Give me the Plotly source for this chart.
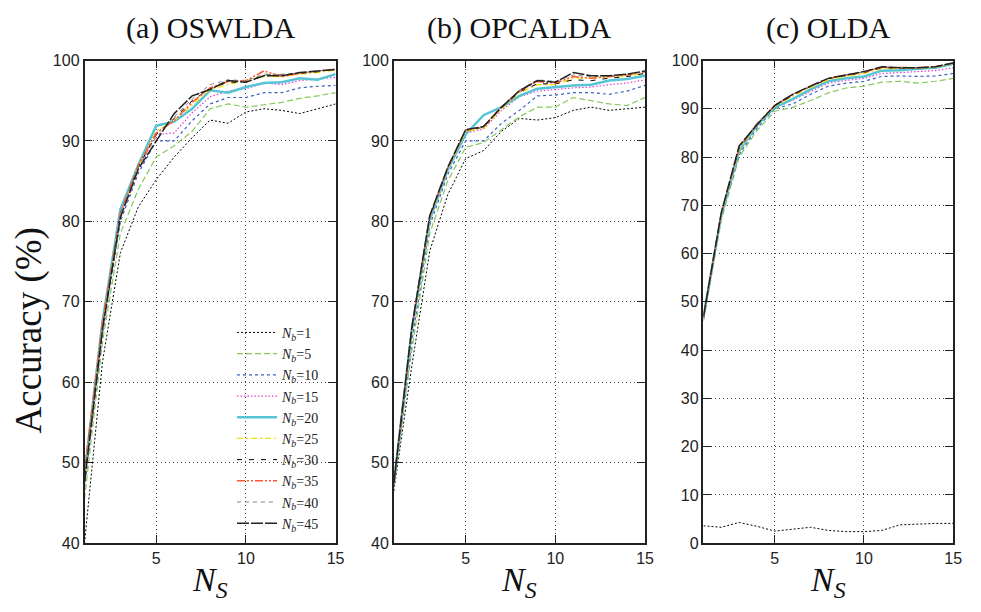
import plotly.graph_objects as go

# ---------------- data ----------------
ns = list(range(1, 16))
nb_labels = ["1", "5", "10", "15", "20", "25", "30", "35", "40", "45"]
panel_titles = ["(a) OSWLDA", "(b) OPCALDA", "(c) OLDA"]
x_ticks = [5, 10, 15]
y_ticks_ab = [40, 50, 60, 70, 80, 90, 100]
y_ticks_c = [0, 10, 20, 30, 40, 50, 60, 70, 80, 90, 100]

oswlda = {
    "1":  [40.0, 62.5, 76.1, 81.8, 85.2, 88.0, 90.4, 92.6, 92.2, 93.6, 94.0, 93.8, 93.4, 94.0, 94.6],
    "5":  [45.5, 65.0, 78.5, 84.0, 88.0, 89.4, 91.2, 94.0, 94.6, 94.2, 94.5, 94.8, 95.3, 95.6, 96.0],
    "10": [47.0, 66.0, 80.0, 86.0, 90.0, 90.0, 92.5, 94.6, 95.4, 95.4, 96.0, 96.0, 96.6, 96.8, 96.9],
    "15": [48.0, 66.5, 80.5, 86.5, 90.8, 91.0, 93.5, 95.5, 96.2, 96.5, 97.2, 97.0, 97.5, 97.7, 97.9],
    "20": [48.5, 67.5, 81.5, 87.0, 91.9, 92.4, 94.0, 96.3, 96.0, 96.7, 97.2, 97.3, 97.8, 97.6, 98.3],
    "25": [48.0, 67.0, 81.0, 86.8, 91.2, 92.5, 94.5, 96.4, 97.0, 97.5, 98.0, 98.0, 98.3, 98.5, 98.8],
    "30": [48.5, 67.0, 81.0, 86.8, 90.8, 92.8, 95.0, 96.5, 97.3, 97.3, 98.2, 98.2, 98.4, 98.6, 98.9],
    "35": [49.0, 67.5, 81.0, 87.0, 91.0, 92.5, 94.8, 96.6, 97.4, 97.5, 98.7, 98.0, 98.4, 98.7, 98.9],
    "40": [48.5, 67.0, 81.0, 86.8, 90.5, 93.0, 95.2, 97.0, 97.6, 97.5, 98.3, 98.3, 98.4, 98.7, 98.9],
    "45": [47.5, 66.5, 80.5, 86.5, 90.0, 93.4, 95.6, 96.4, 97.5, 97.3, 98.1, 98.1, 98.5, 98.7, 98.9],
}

opcalda = {
    "1":  [46.5, 62.0, 76.3, 83.3, 87.8, 88.8, 91.2, 92.8, 92.6, 92.9, 93.8, 94.2, 93.8, 94.0, 94.2],
    "5":  [47.0, 64.0, 78.5, 85.0, 89.2, 89.8, 91.4, 93.0, 94.2, 94.2, 95.4, 95.0, 94.6, 94.4, 95.4],
    "10": [47.0, 65.0, 79.5, 85.8, 90.0, 90.0, 92.2, 93.8, 95.6, 95.7, 96.0, 96.0, 95.8, 96.2, 96.9],
    "15": [47.5, 66.0, 80.0, 86.2, 91.0, 91.5, 93.8, 95.5, 96.2, 96.4, 96.6, 96.7, 97.0, 97.2, 97.6],
    "20": [47.5, 66.5, 80.3, 86.4, 90.8, 93.2, 94.2, 95.6, 96.5, 96.7, 96.9, 97.0, 97.5, 97.7, 98.1],
    "25": [47.5, 66.5, 80.5, 86.5, 91.2, 91.6, 94.0, 96.0, 97.0, 97.0, 97.8, 97.8, 98.0, 98.1, 98.4],
    "30": [47.5, 66.5, 80.5, 86.6, 91.3, 91.7, 94.1, 96.1, 97.1, 97.1, 97.6, 97.5, 97.8, 98.0, 98.4],
    "35": [47.5, 66.7, 80.6, 86.6, 91.3, 91.8, 94.2, 96.2, 97.4, 97.2, 98.0, 97.8, 98.0, 98.2, 98.6],
    "40": [47.5, 66.7, 80.6, 86.7, 91.4, 91.7, 94.3, 96.3, 97.6, 97.4, 98.2, 98.0, 98.1, 98.3, 98.6],
    "45": [47.5, 66.8, 80.7, 86.7, 91.4, 91.8, 94.2, 96.25, 97.5, 97.3, 98.5, 98.1, 98.1, 98.3, 98.7],
}

olda = {
    "1":  [3.6, 3.3, 4.3, 3.5, 2.5, 2.9, 3.3, 2.65, 2.4, 2.4, 2.65, 3.8, 4.0, 4.1, 4.1],
    "5":  [46.0, 67.0, 80.0, 85.5, 89.5, 90.3, 91.7, 93.3, 94.3, 94.7, 95.5, 95.7, 95.3, 95.7, 96.3],
    "10": [46.5, 67.5, 80.5, 86.0, 90.0, 91.0, 93.0, 94.7, 95.3, 95.7, 96.7, 96.8, 96.7, 96.8, 97.3],
    "15": [47.0, 68.0, 81.0, 86.5, 90.2, 91.8, 93.6, 95.3, 95.9, 96.3, 97.3, 97.5, 97.6, 97.9, 98.5],
    "20": [47.0, 68.0, 81.3, 86.6, 90.3, 92.0, 94.0, 95.7, 96.3, 96.7, 97.9, 98.0, 98.3, 98.5, 99.3],
    "25": [47.0, 68.2, 81.6, 86.8, 90.5, 92.6, 94.4, 96.0, 96.7, 97.3, 98.3, 98.3, 98.4, 98.6, 99.4],
    "30": [47.0, 68.3, 81.8, 86.8, 90.6, 92.8, 94.6, 96.2, 96.9, 97.5, 98.5, 98.4, 98.5, 98.7, 99.5],
    "35": [47.0, 68.3, 82.0, 86.9, 90.7, 92.9, 94.7, 96.3, 97.0, 97.6, 98.6, 98.5, 98.5, 98.7, 99.5],
    "40": [47.0, 68.4, 82.0, 87.0, 90.7, 93.0, 94.7, 96.3, 97.0, 97.7, 98.7, 98.5, 98.5, 98.7, 99.5],
    "45": [47.0, 68.5, 82.3, 86.7, 90.7, 93.0, 94.7, 96.3, 97.0, 97.7, 98.7, 98.5, 98.5, 98.7, 99.5],
}

# ---------------- styles ----------------
styles = {
    "1":  dict(color="#000000", width=1.0, dash="2px,2px"),
    "5":  dict(color="#84c95a", width=1.2, dash="6px,3px"),
    "10": dict(color="#3b5fc0", width=1.2, dash="3px,3px"),
    "15": dict(color="#e040d0", width=1.2, dash="1.5px,2px"),
    "20": dict(color="#55c5d5", width=2.5, dash="solid"),
    "25": dict(color="#f0e000", width=1.3, dash="6px,3px,2px,3px"),
    "30": dict(color="#000000", width=1.0, dash="5px,7px"),
    "35": dict(color="#ff5533", width=1.5, dash="8px,2px,2px,2px,2px,2px"),
    "40": dict(color="#888888", width=1.0, dash="4px,4px"),
    "45": dict(color="#222222", width=1.5, dash="12px,2px"),
}

SERIF = "Liberation Serif"
SANS = "Liberation Sans"

fig = go.Figure()
panels = [(oswlda, "x", "y"), (opcalda, "x2", "y2"), (olda, "x3", "y3")]
for pi, (data, xa, ya) in enumerate(panels):
    for nb in nb_labels:
        fig.add_trace(go.Scatter(
            x=ns, y=data[nb], mode="lines", xaxis=xa, yaxis=ya,
            line=styles[nb],
            name="<i>N<sub>b</sub></i>=" + nb,
            showlegend=(pi == 0),
            legendgroup=nb,
        ))

W, H = 981, 612
xdoms = [[85.3 / W, 338.7 / W], [397.5 / W, 651 / W], [710 / W, 962 / W]]
ydom = [1 - 550.5 / H, 1 - 54 / H]

axis_common = dict(
    showline=True, linecolor="#222222", linewidth=1.5, mirror="ticks",
    ticks="inside", ticklen=8, tickwidth=1, tickcolor="#222222",
    showgrid=True, gridcolor="#444444", gridwidth=1, griddash="1px,3px",
    zeroline=False, tickfont=dict(family=SANS, size=16, color="#222222"),
)

layout = dict(
    width=W, height=H, margin=dict(l=0, r=0, t=0, b=0),
    paper_bgcolor="white", plot_bgcolor="white",
    showlegend=True,
    legend=dict(x=328 / W, xanchor="right", y=1 - 546 / H, yanchor="bottom",
                bgcolor="rgba(0,0,0,0)", font=dict(family=SERIF, size=14, color="#222222"),
                itemwidth=40, tracegroupgap=0),
)
for i in range(3):
    sx = "" if i == 0 else str(i + 1)
    layout["xaxis" + sx] = dict(axis_common, domain=xdoms[i], range=[1, 15],
                                tickvals=x_ticks, anchor="y" + sx)
    yt = y_ticks_c if i == 2 else y_ticks_ab
    layout["yaxis" + sx] = dict(axis_common, domain=ydom, range=[yt[0], yt[-1]],
                                tickvals=yt, anchor="x" + sx)
fig.update_layout(**layout)

annotations = []
for i in range(3):
    cx = (xdoms[i][0] + xdoms[i][1]) / 2
    annotations.append(dict(text=panel_titles[i], x=cx, y=1 - 21 / H, xref="paper", yref="paper",
                            showarrow=False, xanchor="center", yanchor="middle",
                            font=dict(family=SERIF, size=30, color="#111111")))
    annotations.append(dict(text="<i>N<sub>S</sub></i>", x=cx, y=1 - 590 / H, xref="paper", yref="paper",
                            showarrow=False, xanchor="center", yanchor="middle",
                            font=dict(family=SERIF, size=34, color="#111111")))
annotations.append(dict(text="Accuracy (%)", x=29 / W, y=1 - 332 / H, xref="paper", yref="paper",
                        showarrow=False, xanchor="center", yanchor="middle", textangle=-90,
                        font=dict(family=SERIF, size=37, color="#111111")))
fig.update_layout(annotations=annotations)

fig.write_html("out.html")
